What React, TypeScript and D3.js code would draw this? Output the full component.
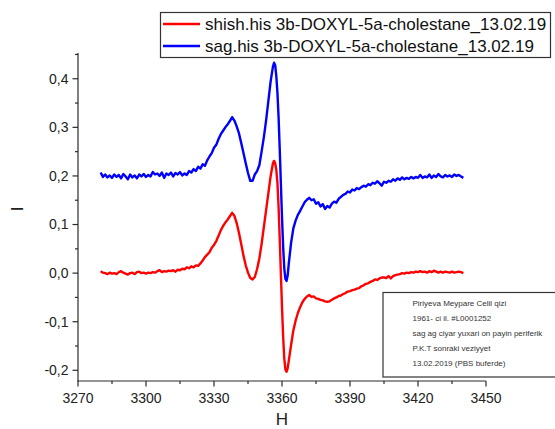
import React from "react";
import * as d3 from "d3";

const fieldH = [
  3280, 3281, 3282, 3283, 3284, 3285, 3286, 3287, 3288, 3289,
  3290, 3291, 3292, 3293, 3294, 3295, 3296, 3297, 3298, 3299,
  3300, 3301, 3302, 3303, 3304, 3305, 3306, 3307, 3308, 3309,
  3310, 3311, 3312, 3313, 3314, 3315, 3316, 3317, 3318, 3319,
  3320, 3321, 3322, 3323, 3324, 3325, 3326, 3327, 3328, 3329,
  3330, 3331, 3332, 3333, 3334, 3335, 3336, 3337, 3338, 3339,
  3340, 3341, 3342, 3343, 3344, 3345, 3346, 3347, 3348, 3349,
  3350, 3351, 3352, 3353, 3354, 3355, 3356,
  3356.5, 3357, 3357.5, 3358, 3358.5, 3359, 3359.5, 3360, 3360.5, 3361, 3361.5, 3362, 3362.5,
  3363, 3364, 3365, 3366, 3367, 3368, 3369,
  3370, 3371, 3372, 3373, 3374, 3375, 3376, 3377, 3378, 3379,
  3380, 3381, 3382, 3383, 3384, 3385, 3386, 3387, 3388, 3389,
  3390, 3391, 3392, 3393, 3394, 3395, 3396, 3397, 3398, 3399,
  3400, 3401, 3402, 3403, 3404, 3405, 3406, 3407, 3408, 3409,
  3410, 3411, 3412, 3413, 3414, 3415, 3416, 3417, 3418, 3419,
  3420, 3421, 3422, 3423, 3424, 3425, 3426, 3427, 3428, 3429,
  3430, 3431, 3432, 3433, 3434, 3435, 3436, 3437, 3438, 3439, 3440,
];

const shishValues = [
  0.004, 0.001, 0.000, -0.002, 0.001, -0.001, 0.000, -0.002, 0.002, 0.004,
  0.001, -0.001, -0.003, 0.000, 0.001, -0.002, 0.002, 0.003, 0.000, 0.001,
  -0.001, 0.001, 0.000, 0.002, 0.001, 0.004, 0.006, 0.002, 0.004, 0.003,
  0.005, 0.004, 0.006, 0.003, 0.007, 0.006, 0.009, 0.008, 0.012, 0.010,
  0.014, 0.012, 0.016, 0.015, 0.020, 0.026, 0.033, 0.038, 0.043, 0.052,
  0.058, 0.066, 0.077, 0.088, 0.097, 0.104, 0.110, 0.117, 0.124, 0.118,
  0.103, 0.083, 0.060, 0.036, 0.016, 0.001, -0.010, -0.013, -0.008, 0.008,
  0.030, 0.060, 0.095, 0.130, 0.165, 0.200, 0.226,
  0.231, 0.226, 0.212, 0.185, 0.135, 0.070, 0.000, -0.070, -0.130, -0.175, -0.198, -0.203, -0.196,
  -0.180, -0.148, -0.118, -0.098, -0.082, -0.070, -0.060,
  -0.053, -0.048, -0.045, -0.049, -0.048, -0.052, -0.053, -0.055, -0.056, -0.058,
  -0.059, -0.058, -0.055, -0.052, -0.050, -0.047, -0.046, -0.043, -0.041, -0.038,
  -0.037, -0.035, -0.034, -0.032, -0.031, -0.027, -0.025, -0.022, -0.021, -0.018,
  -0.016, -0.013, -0.014, -0.011, -0.009, -0.009, -0.010, -0.006, -0.011, -0.006,
  -0.004, -0.003, -0.002, 0.000, -0.001, 0.001, 0.000, 0.002, 0.001, 0.003,
  0.002, 0.004, 0.002, 0.003, 0.001, 0.004, 0.002, 0.005, 0.003, 0.001,
  0.003, 0.001, 0.003, 0.002, 0.001, 0.003, 0.001, 0.002, 0.003, 0.002, 0.000,
];

const sagValues = [
  0.207, 0.198, 0.203, 0.197, 0.201, 0.196, 0.203, 0.198, 0.202, 0.195,
  0.204, 0.199, 0.193, 0.203, 0.197, 0.201, 0.195, 0.203, 0.199, 0.204,
  0.198, 0.202, 0.199, 0.208, 0.203, 0.205, 0.200, 0.207, 0.196, 0.205,
  0.202, 0.207, 0.199, 0.206, 0.203, 0.208, 0.201, 0.205, 0.202, 0.210,
  0.207, 0.214, 0.210, 0.219, 0.215, 0.224, 0.221, 0.232, 0.240, 0.247,
  0.258, 0.264, 0.276, 0.286, 0.293, 0.300, 0.306, 0.313, 0.321, 0.314,
  0.302, 0.288, 0.268, 0.247, 0.226, 0.206, 0.190, 0.190, 0.203, 0.210,
  0.222, 0.250, 0.280, 0.315, 0.355, 0.395, 0.425,
  0.433, 0.428, 0.405, 0.370, 0.320, 0.255, 0.185, 0.115, 0.055, 0.010, -0.012, -0.016, -0.005,
  0.020, 0.062, 0.092, 0.108, 0.120, 0.128, 0.137,
  0.146, 0.151, 0.155, 0.150, 0.152, 0.143, 0.146, 0.137, 0.142, 0.132,
  0.138, 0.135, 0.143, 0.147, 0.145, 0.153, 0.157, 0.161, 0.163, 0.168,
  0.166, 0.172, 0.170, 0.175, 0.173, 0.177, 0.180, 0.178, 0.183, 0.181,
  0.186, 0.184, 0.189, 0.185, 0.180, 0.188, 0.186, 0.190, 0.188, 0.193,
  0.190, 0.195, 0.192, 0.197, 0.193, 0.196, 0.194, 0.198, 0.195, 0.198,
  0.196, 0.202, 0.196, 0.199, 0.197, 0.203, 0.196, 0.201, 0.198, 0.204,
  0.199, 0.197, 0.202, 0.199, 0.201, 0.198, 0.203, 0.200, 0.202, 0.199, 0.196,
];

const seriesNames = [
  "shish.his 3b-DOXYL-5a-cholestane_13.02.19",
  "sag.his 3b-DOXYL-5a-cholestane_13.02.19",
];
const seriesColors = ["#ff0000", "#0000ff"];

const xMajorTicks = [3270, 3300, 3330, 3360, 3390, 3420, 3450];
const xMinorTicks = [3285, 3315, 3345, 3375, 3405, 3435];
const yMajorTicks = [-0.2, -0.1, 0.0, 0.1, 0.2, 0.3, 0.4];
const yMinorTicks = [-0.15, -0.05, 0.05, 0.15, 0.25, 0.35, 0.45];

const noteLines = [
  "Piriyeva Meypare Celil qizi",
  "1961- ci il. #L0001252",
  "sag ag ciyar yuxari on payin periferik",
  "P.K.T sonraki veziyyet",
  "13.02.2019 (PBS buferde)",
];

const xLabel = "H";
const yLabel = "I";

export default function App() {
  const W = 555;
  const H = 429;
  const x = d3.scaleLinear().domain([3270, 3450]).range([78, 486]);
  const y = d3.scaleLinear().domain([-0.222, 0.453]).range([381, 53]);
  const font = "Liberation Sans, Arial, sans-serif";
  const axisColor = "#2b2b2b";

  const makeLine = (vals: number[]) =>
    d3
      .line<number>()
      .x((_, i) => x(fieldH[i]))
      .y((v) => y(v))
      .curve(d3.curveLinear)(vals) || "";

  const fmt = (v: number) => d3.format(".1f")(v).replace(".", ",").replace("−", "-");

  return (
    <svg
      width={W}
      height={H}
      style={{ position: "absolute", left: 0, top: 0, background: "#fff" }}
      fontFamily={font}
    >
      <rect x={0} y={0} width={W} height={H} fill="#fff" />
      {/* series */}
      <path d={makeLine(shishValues)} fill="none" stroke={seriesColors[0]} strokeWidth={2.4} strokeLinejoin="round" />
      <path d={makeLine(sagValues)} fill="none" stroke={seriesColors[1]} strokeWidth={2.4} strokeLinejoin="round" />

      {/* axes */}
      <line x1={78} x2={78} y1={53} y2={381.5} stroke={axisColor} strokeWidth={1.2} />
      <line x1={77.5} x2={486} y1={381} y2={381} stroke={axisColor} strokeWidth={1.2} />
      {xMajorTicks.map((t) => (
        <g key={"xm" + t}>
          <line x1={x(t)} x2={x(t)} y1={381} y2={386.5} stroke={axisColor} strokeWidth={1.2} />
          <text x={x(t)} y={403} fontSize={14} textAnchor="middle" fill="#222">
            {t}
          </text>
        </g>
      ))}
      {xMinorTicks.map((t) => (
        <line key={"xn" + t} x1={x(t)} x2={x(t)} y1={381} y2={384} stroke={axisColor} strokeWidth={1.2} />
      ))}
      {yMajorTicks.map((t) => (
        <g key={"ym" + t}>
          <line x1={72.5} x2={78} y1={y(t)} y2={y(t)} stroke={axisColor} strokeWidth={1.2} />
          <text x={68.5} y={y(t)} dy="0.35em" fontSize={14} textAnchor="end" fill="#222">
            {fmt(t)}
          </text>
        </g>
      ))}
      {yMinorTicks.map((t) => (
        <line key={"yn" + t} x1={75} x2={78} y1={y(t)} y2={y(t)} stroke={axisColor} strokeWidth={1.2} />
      ))}

      <text x={282} y={425} fontSize={17} textAnchor="middle" fill="#222">
        {xLabel}
      </text>
      <text transform="translate(23,209) rotate(-90)" fontSize={17} textAnchor="middle" fill="#222">
        {yLabel}
      </text>

      {/* legend */}
      <rect x={160.5} y={12.5} width={390} height={45} fill="#fff" stroke="#333" strokeWidth={1.2} />
      {seriesNames.map((n, i) => (
        <g key={n}>
          <line x1={163} x2={200} y1={24 + i * 22} y2={24 + i * 22} stroke={seriesColors[i]} strokeWidth={2.6} />
          <text x={205} y={24 + i * 22} dy="0.35em" fontSize={17} fill="#111">
            {n}
          </text>
        </g>
      ))}

      {/* annotation */}
      <rect x={383} y={292.5} width={180} height={84.5} fill="#fff" stroke="#333" strokeWidth={1.2} />
      {noteLines.map((l, i) => (
        <text key={l} x={412.5} y={306 + i * 14.9} fontSize={8} fill="#333">
          {l}
        </text>
      ))}
    </svg>
  );
}
